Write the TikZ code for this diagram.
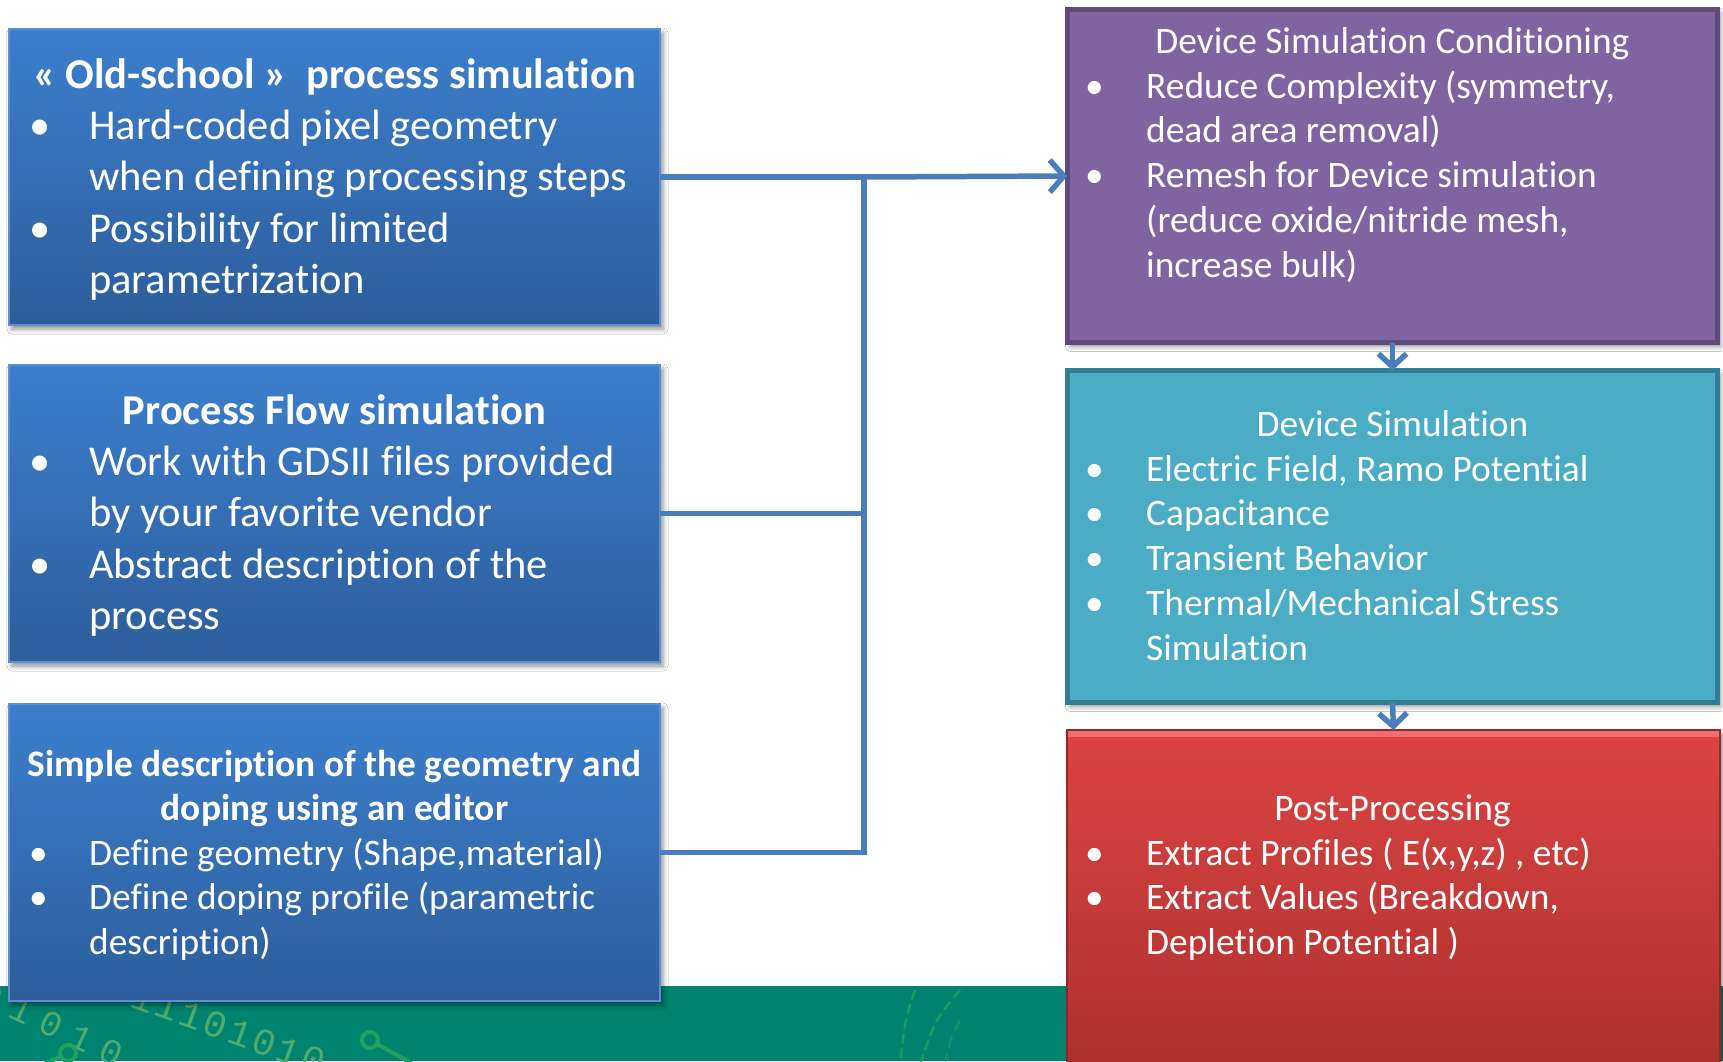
\documentclass[tikz,border=0pt]{standalone}
\usepackage{fontspec}
\setmainfont[Ligatures={NoCommon}]{Carlito}
\newfontfamily\digitfontA[LetterSpace=32]{Liberation Mono}
\newfontfamily\digitfontB[LetterSpace=8]{Liberation Mono}
\usetikzlibrary{arrows.meta,shadows.blur}

\definecolor{boxblueTop}{HTML}{3C7FCD}
\definecolor{boxblueBot}{HTML}{2D5D9B}
\definecolor{boxblueEdge}{HTML}{5B8FD2}
\definecolor{purpleFill}{HTML}{8064A2}
\definecolor{purpleEdge}{HTML}{5E4A7E}
\definecolor{tealFill}{HTML}{4BACC6}
\definecolor{tealEdge}{HTML}{327F94}
\definecolor{redTop}{HTML}{DC4442}
\definecolor{redBot}{HTML}{AC302E}
\definecolor{redEdge}{HTML}{F27C7A}
\definecolor{bandGreen}{HTML}{00846F}
\definecolor{digitGreen}{HTML}{4FAA6E}
\definecolor{traceGreen}{HTML}{22A05E}
\definecolor{linkBlue}{HTML}{4A7EBB}

\tikzset{
  panel/.style={rectangle, inner sep=0pt, outer sep=0pt,
    blur shadow={shadow xshift=3pt, shadow yshift=-4pt,
                 shadow blur radius=5pt, shadow opacity=45}},
  bluebox/.style={panel, top color=boxblueTop, bottom color=boxblueBot,
    draw=boxblueEdge, line width=1.5pt},
  purplebox/.style={panel, fill=purpleFill, draw=purpleEdge, line width=5pt},
  tealbox/.style={panel, fill=tealFill, draw=tealEdge, line width=5pt},
  redbox/.style={panel, top color=redTop, bottom color=redBot,
    draw=redBot!85!black, line width=1.5pt},
  bigtxt/.style={text=white, inner sep=0pt, font=\fontsize{42.5}{51.5}\selectfont},
  bigtitle/.style={bigtxt, font=\fontsize{42.5}{51.5}\selectfont\bfseries},
  smalltxt/.style={text=white, inner sep=0pt, font=\fontsize{37.4}{44.8}\selectfont},
  smalltitle/.style={smalltxt, font=\fontsize{37.4}{44.8}\selectfont\bfseries},
  link/.style={draw=linkBlue, line width=5.5pt},
  linkarrow/.style={link, -{Straight Barb[length=14pt, width=32pt]}},
  downarrow/.style={link, -{Straight Barb[length=13pt, width=28pt]}},
  digits/.style={text=digitGreen, inner sep=0pt},
}

\begin{document}
\begin{tikzpicture}[x=1pt, y=-1pt]
  \clip (0,0) rectangle (1723,1061);
  \fill[white] (0,0) rectangle (1723,1061);

  % decorative green band along the bottom edge
  \fill[bandGreen] (0,986) rectangle (1723,1061);
  \node[digits, font=\fontsize{36}{36}\digitfontA, rotate=-25, anchor=base west]
    (bitsA) at (-24,1002) {01010};
  \node[digits, font=\fontsize{38}{38}\digitfontB, rotate=-20, anchor=base west]
    (bitsB) at (128,1006) {11101010};
  \draw[traceGreen, line width=4pt] (370,1040) circle (8pt);
  \draw[traceGreen, line width=4pt] (377,1044) -- (420,1068);
  \draw[traceGreen, line width=4pt] (68,1053) circle (8pt);
  \draw[traceGreen, line width=4pt] (60,1057) -- (30,1070);
  \draw[traceGreen, line width=2.5pt, dash pattern=on 10pt off 5pt, opacity=.8]
    (960,990) .. controls (935,1020) .. (920,1065);
  \draw[traceGreen, line width=2.5pt, dash pattern=on 10pt off 5pt, opacity=.8]
    (915,990) .. controls (905,1020) .. (900,1065);
  \draw[traceGreen, line width=2pt, dash pattern=on 12pt off 6pt, opacity=.6]
    (960,1020) .. controls (950,1040) .. (945,1065);

  % left column: ways of building the structure
  \node[bluebox, minimum width=651pt, minimum height=296pt] (b1) at (334.5,177) {};
  \node[bluebox, minimum width=651pt, minimum height=297pt] (b2) at (334.5,513.5) {};
  \node[bluebox, minimum width=651pt, minimum height=297pt] (b3) at (334.5,852.5) {};

  % right column: device simulation chain
  \node[purplebox, minimum width=650pt, minimum height=333pt] (p) at (1392.5,176) {};
  \node[tealbox, minimum width=650pt, minimum height=332pt] (t) at (1392.5,536.5) {};
  \node[redbox, minimum width=653pt, minimum height=345pt] (r) at (1393.5,902.5) {};
  \fill[redEdge, opacity=.8] (1068,731) rectangle (1719,737);

  % texts of the left column
  \node[bigtitle, anchor=base] (b1title) at (334.5,88)
    {« Old-school »\ \ process simulation};
  \node[bigtxt, anchor=base west] (b1list) at (29,139)
    {\begin{tabular}[t]{@{}p{60pt}@{}l@{}}
      \textbullet & Hard-coded pixel geometry\\
                  & when defining processing steps\\
      \textbullet & Possibility for limited\\
                  & parametrization
    \end{tabular}};

  \node[bigtitle, anchor=base] (b2title) at (334.5,424) {Process Flow simulation};
  \node[bigtxt, anchor=base west] (b2list) at (29,475)
    {\begin{tabular}[t]{@{}p{60pt}@{}l@{}}
      \textbullet & Work with GDSII files provided\\
                  & by your favorite vendor\\
      \textbullet & Abstract description of the\\
                  & process
    \end{tabular}};

  \node[smalltitle, anchor=base] (b3title) at (334.5,776)
    {\begin{tabular}[t]{@{}c@{}}
      Simple description of the geometry and\\
      doping using an editor
    \end{tabular}};
  \node[smalltxt, anchor=base west] (b3list) at (29,865)
    {\begin{tabular}[t]{@{}p{60pt}@{}l@{}}
      \textbullet & Define geometry (Shape,material)\\
      \textbullet & Define doping profile (parametric\\
                  & description)
    \end{tabular}};

  % texts of the right column
  \node[smalltxt, anchor=base] (ptitle) at (1392.5,53) {Device Simulation Conditioning};
  \node[smalltxt, anchor=base west] (plist) at (1085,98)
    {\begin{tabular}[t]{@{}p{61pt}@{}l@{}}
      \textbullet & Reduce Complexity (symmetry,\\
                  & dead area removal)\\
      \textbullet & Remesh for Device simulation\\
                  & (reduce oxide/nitride mesh,\\
                  & increase bulk)
    \end{tabular}};

  \node[smalltxt, anchor=base] (ttitle) at (1392.5,436) {Device Simulation};
  \node[smalltxt, anchor=base west] (tlist) at (1085,481)
    {\begin{tabular}[t]{@{}p{61pt}@{}l@{}}
      \textbullet & Electric Field, Ramo Potential\\
      \textbullet & Capacitance\\
      \textbullet & Transient Behavior\\
      \textbullet & Thermal/Mechanical Stress\\
                  & Simulation
    \end{tabular}};

  \node[smalltxt, anchor=base] (rtitle) at (1392.5,820) {Post-Processing};
  \node[smalltxt, anchor=base west] (rlist) at (1085,865)
    {\begin{tabular}[t]{@{}p{61pt}@{}l@{}}
      \textbullet & Extract Profiles ( E(x,y,z) , etc)\\
      \textbullet & Extract Values (Breakdown,\\
                  & Depletion Potential )
    \end{tabular}};

  % connectors: the three inputs merge on one trunk feeding the chain
  \coordinate (trunk) at (864,0);
  \draw[link] (b1.east) -- (b1.east -| trunk) |- (b3.east);
  \draw[link] (b2.east) -- (b2.east -| trunk);
  \draw[linkarrow] (b1.east -| trunk) -- (p.west);
  \draw[downarrow] (p.south) -- (t.north);
  \draw[downarrow] (t.south) -- (r.north);
\end{tikzpicture}
\end{document}
